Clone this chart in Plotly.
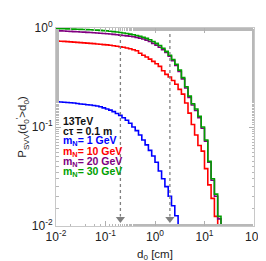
import plotly.graph_objects as go

# ---- data ----
mantissas = [1.0, 1.166, 1.359, 1.585, 1.848, 2.154, 2.512, 2.929, 3.415, 3.981,
             4.642, 5.412, 6.310, 7.356, 8.577]
decades = [0.01, 0.1, 1.0, 10.0]
bin_edges = [m * d for d in decades for m in mantissas] + [100.0]

p_1gev = [0.180, 0.179, 0.178, 0.177, 0.176, 0.175, 0.173, 0.171, 0.170, 0.168,
          0.167, 0.165, 0.163, 0.160, 0.156, 0.152, 0.148, 0.143, 0.137, 0.131,
          0.124, 0.117, 0.109, 0.100, 0.092, 0.083, 0.074, 0.066, 0.058, 0.051,
          0.044, 0.036, 0.030, 0.025, 0.020, 0.016, 0.0127, 0.0102, 0.0080, 0.0062,
          0.0048]
p_10gev = [0.740, 0.736, 0.732, 0.728, 0.724, 0.720, 0.716, 0.712, 0.708, 0.704,
           0.700, 0.695, 0.690, 0.685, 0.680, 0.675, 0.669, 0.662, 0.655, 0.647,
           0.638, 0.628, 0.617, 0.604, 0.590, 0.555, 0.530, 0.510, 0.485, 0.460,
           0.435, 0.410, 0.370, 0.340, 0.320, 0.295, 0.270, 0.240, 0.215, 0.175,
           0.138, 0.106, 0.083, 0.065, 0.057, 0.038, 0.026, 0.019, 0.0125, 0.0075,
           0.0045]
p_20gev = [0.940, 0.936, 0.932, 0.928, 0.924, 0.920, 0.916, 0.912, 0.908, 0.904,
           0.900, 0.895, 0.890, 0.885, 0.880, 0.875, 0.869, 0.862, 0.855, 0.847,
           0.840, 0.832, 0.824, 0.815, 0.805, 0.790, 0.773, 0.755, 0.730, 0.700,
           0.672, 0.640, 0.605, 0.565, 0.518, 0.468, 0.418, 0.365, 0.306, 0.248,
           0.199, 0.167, 0.147, 0.124, 0.097, 0.072, 0.044, 0.029, 0.020, 0.0118,
           0.0072, 0.0043]
p_30gev = [0.985, 0.983, 0.981, 0.979, 0.977, 0.975, 0.972, 0.969, 0.966, 0.963,
           0.960, 0.956, 0.952, 0.947, 0.941, 0.935, 0.928, 0.920, 0.911, 0.901,
           0.890, 0.879, 0.867, 0.854, 0.840, 0.824, 0.805, 0.785, 0.760, 0.730,
           0.700, 0.665, 0.625, 0.580, 0.530, 0.480, 0.430, 0.375, 0.315, 0.255,
           0.205, 0.172, 0.152, 0.128, 0.100, 0.074, 0.045, 0.030, 0.021, 0.0125,
           0.0075, 0.0045]

cut_values = [0.2, 2.0]
series_labels = ["m<sub>N</sub>= 1 GeV", "m<sub>N</sub>= 10 GeV",
                 "m<sub>N</sub>= 20 GeV", "m<sub>N</sub>= 30 GeV"]
header_lines = ["13TeV", "c\u03c4 = 0.1 m"]
x_tickvals = [0.01, 0.1, 1, 10, 100]
x_ticktext = ["10<sup>-2</sup>", "10<sup>-1</sup>", "10<sup>0</sup>",
              "10<sup>1</sup>", "10<sup>2</sup>"]
y_tickvals = [0.01, 0.1, 1]
y_ticktext = ["10<sup>-2</sup>", "10<sup>-1</sup>", "10<sup>0</sup>"]

# ---- style ----
colors = ["#0000ff", "#ff0000", "#800080", "#00a000"]
FONT = "Liberation Sans, Arial, Helvetica, sans-serif"

fig = go.Figure()

for vals, col in zip([p_1gev, p_10gev, p_20gev, p_30gev], colors):
    n = len(vals)
    xs = bin_edges[:n + 1]
    ys = vals + [vals[-1]]
    fig.add_trace(go.Scatter(x=xs, y=ys, mode="lines", line_shape="hv",
                             line=dict(color=col, width=1.6), showlegend=False,
                             hoverinfo="skip"))

for c in cut_values:
    fig.add_trace(go.Scatter(x=[c, c], y=[1.0, 0.0125], mode="lines",
                             line=dict(color="#808080", width=1.3, dash="dot"),
                             showlegend=False, hoverinfo="skip"))
    fig.add_trace(go.Scatter(x=[c], y=[0.0118], mode="markers",
                             marker=dict(symbol="triangle-down", size=8, color="#808080"),
                             showlegend=False, hoverinfo="skip"))

# text block
text_y = [109, 119, 130, 141, 151.5, 162]   # pixel rows
lines = header_lines + series_labels
line_cols = ["#111111", "#111111"] + colors
plot_top, plot_bottom = 12, 218
for t, py, col in zip(lines, text_y, line_cols):
    fig.add_annotation(x=0.025, y=(plot_bottom - py) / (plot_bottom - plot_top),
                       xref="paper", yref="paper", xanchor="left", yanchor="middle",
                       text="<b>" + t + "</b>", showarrow=False,
                       font=dict(family=FONT, size=10.5, color=col))

axis_common = dict(type="log", showgrid=False, zeroline=False, showline=True,
                   linecolor="#c8c8c8", linewidth=1, mirror="ticks",
                   ticks="inside", ticklen=5, tickcolor="#b0b0b0",
                   tickfont=dict(family=FONT, size=12, color="#222222"),
                   minor=dict(ticks="inside", ticklen=2.5, tickcolor="#b8b8b8",
                              showgrid=False))

fig.update_xaxes(range=[-2, 2], **axis_common,
                 tickmode="array", tickvals=x_tickvals, ticktext=x_ticktext,
                 title=dict(text="d<sub>0</sub> [cm]", standoff=6,
                            font=dict(family=FONT, size=11.5, color="#222222")))
fig.update_yaxes(range=[-2, 0], **axis_common,
                 tickmode="array", tickvals=y_tickvals, ticktext=y_ticktext,
                 title=dict(text="P<sub>SVV</sub>(d<sub>0</sub><sup>\u2032</sup>>d<sub>0</sub>)",
                            standoff=2,
                            font=dict(family=FONT, size=11.5, color="#222222")))

fig.update_layout(width=266, height=261,
                  margin=dict(l=48, r=11, t=12, b=43),
                  paper_bgcolor="white", plot_bgcolor="white",
                  font=dict(family=FONT))

fig.write_html("out.html")
